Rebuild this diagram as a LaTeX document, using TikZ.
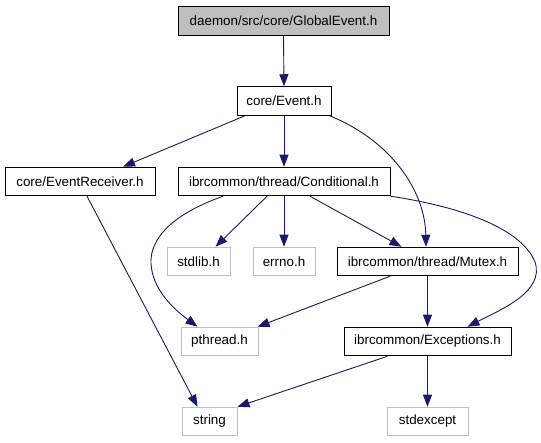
\documentclass[tikz,border=0pt]{standalone}
\usepackage{fontspec}
\setmainfont{Liberation Sans}
\usetikzlibrary{arrows.meta}
\definecolor{edgeblue}{HTML}{191970}
\definecolor{sysgray}{HTML}{BFBFBF}
\definecolor{topfill}{HTML}{BFBFBF}
\tikzset{
  filebox/.style={draw=black, line width=1pt, inner sep=0pt, minimum height=28.5pt,
    font=\fontsize{13.4}{15}\selectfont, anchor=center},
  sysbox/.style={filebox, draw=sysgray},
  topbox/.style={filebox, fill=topfill},
  dep/.style={draw=edgeblue, line width=0.9pt, -{Triangle[length=12pt,width=9pt]}},
}
\begin{document}
\begin{tikzpicture}[x=1pt,y=-1pt]
\useasboundingbox (0,0) rectangle (541,443);
\node[topbox, minimum width=211pt] (GE) at (283.5,21) {daemon/src/core/GlobalEvent.h};
\node[filebox, minimum width=94pt] (EV) at (284,101) {core/Event.h};
\node[filebox, minimum width=150pt] (ER) at (80,181.5) {core/EventReceiver.h};
\node[filebox, minimum width=212pt] (CO) at (284,181.5) {ibrcommon/thread/Conditional.h};
\node[sysbox, minimum width=63pt] (SL) at (198.5,261.5) {stdlib.h};
\node[sysbox, minimum width=62pt] (EN) at (284,261.5) {errno.h};
\node[filebox, minimum width=181pt] (MU) at (427.5,261.5) {ibrcommon/thread/Mutex.h};
\node[sysbox, minimum width=77pt] (PT) at (219.5,341.5) {pthread.h};
\node[filebox, minimum width=167pt] (EX) at (427.5,341.5) {ibrcommon/Exceptions.h};
\node[sysbox, minimum width=55pt] (ST) at (209.5,421.5) {string};
\node[sysbox, minimum width=81pt] (SE) at (427.5,421.5) {stdexcept};

\draw[dep] (GE.south) -- (EV.north);
\draw[dep] ([xshift=-39pt]EV.south) -- ([xshift=43pt]ER.north);
\draw[dep] (EV.south) -- (CO.north);
\draw[dep] ([xshift=-2pt]EV.south east) .. controls (390,140) and (425,190) .. ([xshift=-1.5pt]MU.north);
\draw[dep] ([xshift=-17pt]CO.south) -- ([xshift=17pt]SL.north);
\draw[dep] (CO.south) -- (EN.north);
\draw[dep] ([xshift=26pt]CO.south) -- ([xshift=-26pt]MU.north);
\draw[dep] ([xshift=-61pt]CO.south) .. controls (170,215) and (150,240) .. (151,263)
  .. controls (152,290) and (175,310) .. ([xshift=-22pt]PT.north);
\draw[dep] (CO.south east) .. controls (450,205) and (520,225) .. (535,262)
  .. controls (545,292) and (500,310) .. ([xshift=40pt]EX.north);
\draw[dep] ([xshift=-37.5pt]MU.south) -- ([xshift=-1pt]PT.north east);
\draw[dep] (MU.south) -- (EX.north);
\draw[dep] ([xshift=7pt]ER.south) -- ([xshift=-12pt]ST.north);
\draw[dep] ([xshift=-40pt]EX.south) -- (ST.north east);
\draw[dep] (EX.south) -- (SE.north);
\end{tikzpicture}
\end{document}
